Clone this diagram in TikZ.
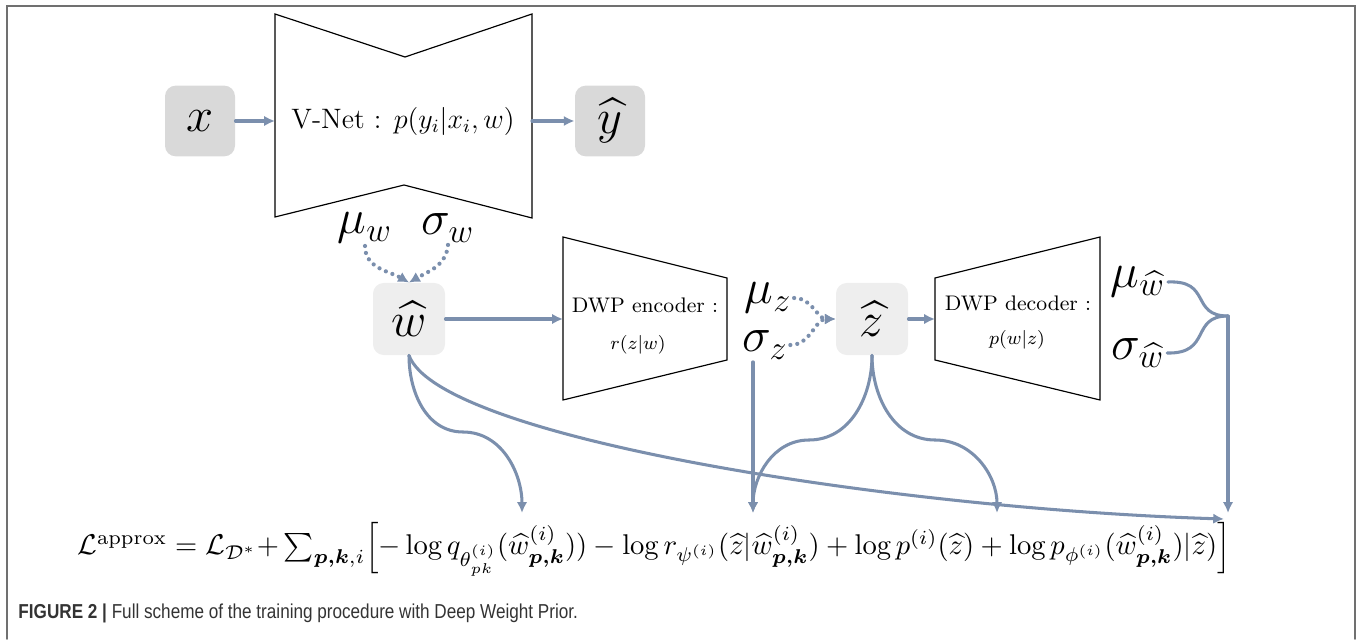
\documentclass[tikz,border=0pt]{standalone}
\usepackage{amsmath,amssymb}
\usepackage{graphicx}
\usepackage{fontspec}
\newfontfamily\captionfont[FakeStretch=0.85]{Liberation Sans}
\usetikzlibrary{positioning,arrows.meta}

\definecolor{linkblue}{HTML}{7B8FAD}
\definecolor{boxgray}{HTML}{D9D9D9}
\definecolor{boxlight}{HTML}{EEEEEE}
\definecolor{framegray}{HTML}{707070}
\definecolor{captiongray}{HTML}{333333}

\tikzset{
  inbox/.style={fill=boxgray, rounded corners=1.6mm, minimum width=10.5mm,
    minimum height=10.6mm, font=\huge},
  midbox/.style={fill=boxlight, rounded corners=1.6mm, minimum size=10.8mm, font=\huge},
  net/.style={draw=black, line width=0.5pt},
  param/.style={font=\huge, inner sep=1pt},
  bline/.style={draw=linkblue, line width=1.3pt},
  link/.style={bline, -{Latex[length=4.6pt,width=4.4pt]}},
  dotlink/.style={draw=linkblue, line width=1.8pt, dash pattern=on 0pt off 3pt,
    line cap=round, -{Latex[length=4.6pt,width=4.8pt]}},
}

\begin{document}
\begin{tikzpicture}[x=0.15mm,y=0.15mm,line cap=round]
  \useasboundingbox (0,0) rectangle (1360,639);
  \draw[framegray, line width=0.8pt] (7,0) -- (7,633) -- (1355,633) -- (1355,0);

  % V-Net
  \node[inbox] (x) at (200,518) {$x$};
  \node[inbox] (yhat) at (610,518) {$\widehat{y}$};
  \draw[net] (275,625) -- (405,582) -- (532,625) -- (532,421) -- (404,454) -- (275,422) -- cycle;
  \node[font=\large] (vnet) at (403,518) {V-Net : $p(y_i|x_i,w)$};
  \coordinate (vnet-in) at (275,518);
  \coordinate (vnet-out) at (532,518);
  \draw[link] (x) -- (vnet-in);
  \draw[link] (vnet-out) -- (yhat);

  \node[param] (muw) at (365,411) {$\mu_w$};
  \node[param] (sigw) at (448,411) {$\sigma_w$};
  \node[midbox] (what) at (409,320) {$\widehat{w}$};
  \draw[dotlink] (muw.south) to[out=-90,in=150] (what.north);
  \draw[dotlink] (sigw.south) to[out=-95,in=30] (what.north);

  % DWP encoder
  \draw[net] (563,402) -- (727,361) -- (727,279) -- (563,239) -- cycle;
  \node[font=\small] (enc) at (645,334) {DWP encoder :};
  \node[font=\footnotesize] (enc-f) at (638,294) {$r(z|w)$};
  \coordinate (enc-in) at (563,320);
  \draw[link] (what) -- (enc-in);

  \node[param] (muz) at (768,341) {$\mu_z$};
  \node[param] (sigz) at (765,294) {$\sigma_z$};
  \node[midbox] (zhat) at (872,320) {$\widehat{z}$};
  \draw[dotlink] (muz.east) to[out=0,in=180] (zhat.west);
  \draw[dotlink] (sigz.east) to[out=0,in=180] (zhat.west);

  % DWP decoder
  \draw[net] (935,361) -- (1100,402) -- (1100,239) -- (935,279) -- cycle;
  \node[font=\small] (dec) at (1018,336) {DWP decoder :};
  \node[font=\footnotesize] (dec-f) at (1017,299) {$p(w|z)$};
  \coordinate (dec-in) at (935,320);
  \draw[link] (zhat) -- (dec-in);

  \node[param] (muwh) at (1138,357) {$\mu_{\widehat{w}}$};
  \node[param] (sigwh) at (1138,286) {$\sigma_{\widehat{w}}$};
  \coordinate (dj) at (1228,323);
  \draw[bline] (muwh.east) .. controls (1212,359) and (1190,323) .. (dj);
  \draw[bline] (sigwh.east) .. controls (1212,285) and (1190,323) .. (dj);

  % loss
  \node (loss) at (654,90) {\resizebox{173mm}{!}{$\mathcal{L}^{\mathrm{approx}} = \mathcal{L}_{\mathcal{D}^*}{+}\textstyle\sum_{\boldsymbol{p,k},i}\Bigl[-\log q_{\theta^{(i)}_{pk}}(\widehat{w}^{(i)}_{\boldsymbol{p,k}})) - \log r_{\psi^{(i)}}(\widehat{z}|\widehat{w}^{(i)}_{\boldsymbol{p,k}}) + \log p^{(i)}(\widehat{z}) + \log p_{\phi^{(i)}}(\widehat{w}^{(i)}_{\boldsymbol{p,k}})|\widehat{z})\Bigr]$}};
  \coordinate (tq) at (522,126);
  \coordinate (tr) at (753,126);
  \coordinate (tp) at (997,126);
  \coordinate (tv) at (1228,126);
  \coordinate (th) at (1224,120);

  \draw[link] (what.south) to[out=-90,in=180] (463,207) to[out=0,in=90] (tq);
  \draw[link] (what.south) .. controls (440,200) and (900,130) .. (th);
  \draw[link] (tr |- sigz.south) -- (tr);
  \draw[link] (zhat.south) to[out=-90,in=0] (809,199) to[out=180,in=90] (tr);
  \draw[link] (zhat.south) to[out=-90,in=180] (935,199) to[out=0,in=90] (tp);
  \draw[link] (dj) -- (tv);

  \node[anchor=west, inner sep=0, text=captiongray,
    font={\captionfont\fontsize{8.6}{10}\selectfont}] (cap) at (18,26)
    {\textbf{FIGURE 2 |} Full scheme of the training procedure with Deep Weight Prior.};
\end{tikzpicture}
\end{document}
